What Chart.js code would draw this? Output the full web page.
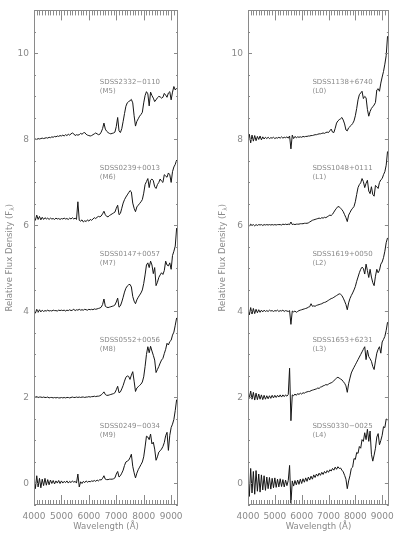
<!DOCTYPE html>
<html>
<head>
<meta charset="utf-8">
<title>SDSS late-M and L dwarf spectra</title>
<script src="https://cdn.jsdelivr.net/npm/chart.js@4.4.1/dist/chart.umd.min.js"></script>
<style>
  body { margin: 0; background: #fff; }
  .panel { position: absolute; top: 0; width: 200px; height: 535px; }
</style>
</head>
<body>
<div class="panel" style="left:0"><canvas id="mChart" width="200" height="535"></canvas></div>
<div class="panel" style="left:200px"><canvas id="lChart" width="200" height="535"></canvas></div>
<script>
// wavelength grid (Angstrom) shared by all spectra
const wavelength = [
  4000,4050,4100,4150,4200,4250,4300,4350,4400,4450,
  4500,4550,4600,4650,4700,4750,4800,4850,4900,4950,
  5000,5050,5100,5150,5200,5250,5300,5350,5400,5450,
  5500,5550,5600,5650,5700,5750,5800,5850,5900,5950,
  6000,6050,6100,6150,6200,6250,6300,6350,6400,6450,
  6500,6550,6600,6650,6700,6750,6800,6850,6900,6950,
  7000,7050,7100,7150,7200,7250,7300,7350,7400,7450,
  7500,7550,7600,7650,7700,7750,7800,7850,7900,7950,
  8000,8050,8100,8150,8200,8250,8300,8350,8400,8450,
  8500,8550,8600,8650,8700,8750,8800,8850,8900,8950,
  9000,9050,9100,9150,9200
];

// tick labels
const xTickValues = [4000, 5000, 6000, 7000, 8000, 9000];
const yTickValues = [0, 2, 4, 6, 8, 10];

// vertical offset of each spectrum (top to bottom)
const offsets = [8, 6, 4, 2, 0];

const mNames = ['SDSS2332\u22120110', 'SDSS0239+0013', 'SDSS0147+0057', 'SDSS0552+0056', 'SDSS0249\u22120034'];
const mTypes = ['M5', 'M6', 'M7', 'M8', 'M9'];
const lNames = ['SDSS1138+6740', 'SDSS1048+0111', 'SDSS1619+0050', 'SDSS1653+6231', 'SDSS0330\u22120025'];
const lTypes = ['L0', 'L1', 'L2', 'L3', 'L4'];

// relative flux, before offset
const m5 = [
  0.00,0.01,0.00,0.02,0.01,0.02,0.03,0.02,0.03,0.04,
  0.03,0.05,0.04,0.06,0.05,0.07,0.06,0.08,0.07,0.09,
  0.08,0.10,0.08,0.11,0.09,0.12,0.10,0.13,0.15,0.13,
  0.09,0.11,0.10,0.11,0.14,0.12,0.15,0.16,0.12,0.10,
  0.09,0.08,0.09,0.11,0.13,0.15,0.13,0.11,0.12,0.17,
  0.25,0.38,0.24,0.19,0.16,0.14,0.13,0.14,0.15,0.17,
  0.30,0.51,0.20,0.16,0.25,0.42,0.60,0.77,0.85,0.88,
  0.90,0.93,0.85,0.55,0.31,0.42,0.48,0.54,0.58,0.63,
  0.85,1.02,1.11,1.06,0.78,1.10,1.02,0.96,0.88,0.92,
  0.97,1.00,0.99,0.96,0.98,1.07,1.03,0.98,1.08,1.11,
  0.92,1.10,1.23,1.15,1.19
];
const m6 = [
  0.20,0.12,0.24,0.14,0.21,0.13,0.19,0.14,0.18,0.15,
  0.17,0.14,0.17,0.15,0.16,0.14,0.17,0.15,0.16,0.14,
  0.16,0.15,0.17,0.15,0.16,0.14,0.17,0.15,0.18,0.15,
  0.17,0.14,0.55,0.12,0.10,0.13,0.08,0.11,0.09,0.13,
  0.10,0.14,0.12,0.15,0.18,0.16,0.19,0.21,0.20,0.22,
  0.27,0.33,0.25,0.21,0.20,0.23,0.25,0.27,0.29,0.31,
  0.40,0.47,0.25,0.28,0.40,0.52,0.60,0.66,0.71,0.76,
  0.81,0.78,0.52,0.40,0.32,0.43,0.47,0.51,0.55,0.60,
  0.75,0.95,1.02,1.09,0.88,1.05,1.08,1.04,0.90,0.86,
  0.95,1.00,1.08,1.03,1.00,1.18,1.15,1.12,1.22,1.18,
  1.00,1.25,1.36,1.42,1.52
];
const m7 = [
  0.03,-0.04,0.05,-0.02,0.04,-0.01,0.03,0.00,0.02,0.01,
  0.03,0.01,0.02,0.01,0.03,0.02,0.02,0.01,0.03,0.02,
  0.03,0.02,0.03,0.01,0.03,0.02,0.04,0.02,0.03,0.05,
  0.02,0.04,0.03,0.05,0.03,0.04,0.03,0.05,0.04,0.03,
  0.05,0.04,0.05,0.04,0.06,0.05,0.06,0.07,0.08,0.10,
  0.16,0.29,0.12,0.10,0.09,0.10,0.11,0.12,0.13,0.15,
  0.22,0.31,0.10,0.13,0.22,0.33,0.45,0.54,0.59,0.62,
  0.63,0.57,0.35,0.24,0.18,0.27,0.33,0.38,0.43,0.50,
  0.65,0.85,1.08,1.13,1.02,1.17,1.08,0.88,1.02,0.60,
  0.68,0.79,0.85,0.90,0.86,0.95,1.17,1.08,1.06,1.13,
  0.98,1.30,1.40,1.52,1.94
];
const m8 = [
  0.02,0.01,0.02,0.00,0.01,0.01,0.00,0.01,0.00,0.00,
  0.01,-0.01,0.00,0.00,-0.01,0.00,-0.01,0.00,-0.01,-0.01,
  0.00,-0.01,0.00,-0.01,0.00,0.00,-0.01,0.00,0.01,0.00,
  0.00,0.01,0.00,0.01,0.00,0.01,0.01,0.00,0.01,0.01,
  0.02,0.01,0.02,0.02,0.03,0.02,0.03,0.03,0.04,0.06,
  0.09,0.13,0.07,0.05,0.05,0.06,0.07,0.08,0.09,0.11,
  0.18,0.26,0.11,0.13,0.20,0.28,0.38,0.47,0.50,0.49,
  0.42,0.52,0.60,0.38,0.14,0.22,0.25,0.28,0.31,0.36,
  0.48,0.72,1.00,1.18,1.04,1.19,1.08,0.98,0.87,0.58,
  0.65,0.72,0.80,0.87,0.91,1.02,1.12,1.26,1.22,1.30,
  1.33,1.45,1.52,1.68,1.85
];
const m9 = [
  0.15,-0.12,0.18,-0.08,0.12,-0.10,0.10,-0.05,0.12,-0.04,
  0.09,-0.03,0.08,0.00,0.07,-0.01,0.06,0.01,0.07,0.00,
  0.06,0.01,0.05,0.02,0.06,0.01,0.05,0.02,0.06,0.03,
  0.05,0.01,0.22,-0.08,0.04,0.00,0.05,0.02,0.06,0.03,
  0.05,0.04,0.06,0.05,0.07,0.05,0.08,0.06,0.09,0.08,
  0.12,0.18,0.10,0.09,0.09,0.10,0.10,0.10,0.11,0.13,
  0.22,0.28,0.15,0.18,0.24,0.31,0.42,0.50,0.52,0.54,
  0.60,0.68,0.40,0.25,0.13,0.24,0.32,0.38,0.44,0.50,
  0.62,0.85,1.10,1.08,1.02,1.15,0.92,0.96,0.80,0.54,
  0.62,0.73,0.76,0.80,0.86,0.95,1.11,1.19,0.77,1.12,
  1.30,1.38,1.49,1.70,1.95
];
const l0 = [
  -0.05,0.12,-0.08,0.10,-0.04,0.09,-0.03,0.07,0.00,0.08,
  -0.01,0.06,0.01,0.05,0.02,0.05,0.02,0.04,0.03,0.05,
  0.02,0.04,0.03,0.05,0.03,0.06,0.03,0.05,0.04,0.06,
  0.03,0.08,-0.22,0.10,0.02,0.07,0.04,0.06,0.05,0.06,
  0.05,0.07,0.06,0.07,0.07,0.08,0.08,0.09,0.09,0.10,
  0.11,0.11,0.12,0.13,0.13,0.14,0.15,0.14,0.16,0.17,
  0.16,0.20,0.24,0.17,0.16,0.26,0.38,0.43,0.46,0.48,
  0.51,0.45,0.36,0.22,0.20,0.27,0.30,0.33,0.37,0.43,
  0.55,0.72,0.92,1.04,1.08,1.12,0.95,1.00,0.97,0.70,
  0.54,0.65,0.72,0.76,0.80,0.86,1.15,1.18,1.12,1.31,
  1.45,1.58,1.75,1.95,2.40
];
const l1 = [
  0.02,-0.01,0.03,0.00,0.02,-0.01,0.02,0.00,0.02,0.01,
  0.02,0.00,0.02,0.01,0.02,0.01,0.02,0.01,0.02,0.01,
  0.02,0.01,0.02,0.02,0.02,0.01,0.03,0.02,0.03,0.02,
  0.03,0.02,0.08,0.02,0.03,0.02,0.03,0.03,0.03,0.04,
  0.04,0.04,0.05,0.05,0.05,0.06,0.08,0.10,0.12,0.13,
  0.14,0.15,0.16,0.17,0.16,0.18,0.17,0.19,0.18,0.20,
  0.22,0.24,0.23,0.26,0.31,0.36,0.40,0.44,0.43,0.40,
  0.37,0.32,0.25,0.18,0.09,0.24,0.30,0.36,0.40,0.44,
  0.55,0.72,0.88,0.95,0.99,1.09,1.02,0.88,0.98,1.05,
  0.80,0.74,0.90,0.72,0.68,0.93,0.90,0.86,1.00,1.06,
  1.09,1.18,1.25,1.40,1.72
];
const l2 = [
  0.05,-0.08,0.09,-0.06,0.07,-0.05,0.05,-0.03,0.04,-0.02,
  0.03,-0.01,0.03,0.00,0.02,0.00,0.03,0.01,0.02,0.00,
  0.02,0.01,0.03,0.00,0.02,0.01,0.03,0.00,0.02,0.01,
  0.00,0.02,-0.30,0.01,-0.01,0.01,-0.02,0.00,0.02,0.03,
  0.04,0.05,0.06,0.07,0.08,0.10,0.11,0.18,0.12,0.13,
  0.12,0.14,0.15,0.16,0.17,0.18,0.20,0.21,0.22,0.24,
  0.26,0.28,0.30,0.31,0.33,0.35,0.37,0.39,0.41,0.40,
  0.37,0.31,0.24,0.16,0.04,0.20,0.30,0.37,0.43,0.50,
  0.58,0.70,0.80,0.90,0.98,1.03,1.00,0.87,1.10,0.95,
  0.79,0.98,0.80,0.67,0.60,0.82,0.98,0.90,0.96,1.10,
  1.15,1.25,1.40,1.60,1.71
];
const l3 = [
  0.18,-0.02,0.15,-0.04,0.12,-0.06,0.10,-0.05,0.08,-0.04,
  0.06,-0.05,0.05,-0.04,0.04,-0.03,0.04,-0.02,0.05,-0.01,
  0.05,0.00,0.05,0.01,0.06,0.01,0.06,0.02,0.06,0.03,
  0.07,0.68,-0.54,0.06,0.04,0.08,0.05,0.09,0.07,0.10,
  0.08,0.11,0.10,0.12,0.13,0.14,0.14,0.16,0.17,0.18,
  0.19,0.20,0.22,0.21,0.24,0.25,0.27,0.28,0.30,0.29,
  0.31,0.33,0.34,0.36,0.39,0.42,0.45,0.47,0.45,0.43,
  0.41,0.37,0.33,0.27,0.12,0.32,0.45,0.57,0.64,0.70,
  0.76,0.82,0.88,0.94,1.00,1.06,1.12,1.18,0.88,1.10,
  0.95,0.90,0.84,0.72,0.65,0.85,1.03,1.12,1.18,1.03,
  1.29,1.35,1.42,1.56,1.75
];
const l4 = [
  0.25,-0.30,0.35,-0.22,0.28,-0.25,0.30,-0.18,0.22,-0.20,
  0.20,-0.15,0.18,-0.16,0.15,-0.12,0.14,-0.13,0.12,-0.10,
  0.13,-0.09,0.10,-0.08,0.11,-0.07,0.09,-0.08,0.08,-0.05,
  0.07,0.42,-0.46,0.06,-0.06,0.07,-0.03,0.08,-0.02,0.10,
  0.00,0.11,0.03,0.13,0.05,0.15,0.08,0.17,0.10,0.20,
  0.14,0.22,0.17,0.24,0.19,0.26,0.21,0.28,0.24,0.30,
  0.26,0.32,0.29,0.35,0.31,0.38,0.33,0.39,0.35,0.36,
  0.31,0.27,0.19,0.10,-0.12,0.06,0.18,0.35,0.38,0.58,
  0.56,0.72,0.70,0.86,0.82,1.02,0.98,1.18,1.02,1.26,
  0.98,1.22,0.68,0.52,0.66,0.82,1.08,1.16,0.90,1.00,
  1.12,1.32,1.30,1.50,1.48
];

const greyText = '#8a8a8a';
const fontFamily = '"DejaVu Sans", sans-serif';

// box, inward ticks, object labels and the y title
const frameTicks = {
  id: 'frameTicks',
  afterDraw(chart, args, opts) {
    const {ctx, chartArea: a, scales: {x, y}} = chart;
    ctx.save();
    ctx.strokeStyle = greyText;
    ctx.lineWidth = 1;
    ctx.strokeRect(Math.round(a.left) + 0.5, Math.round(a.top) + 0.5,
                   Math.round(a.right - a.left) - 1, Math.round(a.bottom - a.top) - 1);
    ctx.beginPath();
    for (let w = 4000; w <= 9200; w += 100) {
      const px = Math.round(x.getPixelForValue(w)) + 0.5;
      const len = w % 1000 === 0 ? 10 : 5;
      ctx.moveTo(px, a.bottom); ctx.lineTo(px, a.bottom - len);
      ctx.moveTo(px, a.top); ctx.lineTo(px, a.top + len);
    }
    for (let v = -0.5; v <= 11; v += 0.5) {
      const py = Math.round(y.getPixelForValue(v)) + 0.5;
      const len = v % 2 === 0 ? 4 : 2;
      ctx.moveTo(a.left, py); ctx.lineTo(a.left + len, py);
      ctx.moveTo(a.right, py); ctx.lineTo(a.right - len, py);
    }
    ctx.stroke();

    ctx.fillStyle = greyText;
    ctx.font = '7px ' + fontFamily;
    ctx.textBaseline = 'middle';
    ctx.textAlign = 'left';
    const lx = x.getPixelForValue(6400);
    opts.names.forEach((n, i) => {
      ctx.fillText(n, lx, y.getPixelForValue(offsets[i] + 1.33));
      ctx.fillText('(' + opts.types[i] + ')', lx, y.getPixelForValue(offsets[i] + 1.12));
    });

    // rotated y title with subscript lambda
    const big = '8.5px ' + fontFamily, small = '6px ' + fontFamily;
    const t1 = 'Relative Flux Density (F', t2 = '\u03bb', t3 = ')';
    ctx.font = big; const w1 = ctx.measureText(t1).width, w3 = ctx.measureText(t3).width;
    ctx.font = small; const w2 = ctx.measureText(t2).width;
    ctx.translate(opts.titleX, (a.top + a.bottom) / 2);
    ctx.rotate(-Math.PI / 2);
    let sx = -(w1 + w2 + w3) / 2;
    ctx.font = big; ctx.fillText(t1, sx, 0); sx += w1;
    ctx.font = small; ctx.fillText(t2, sx, 2); sx += w2;
    ctx.font = big; ctx.fillText(t3, sx, 0);
    ctx.restore();
  }
};

function makeChart(id, series, names, types, padLeft, padRight, titleX) {
  return new Chart(document.getElementById(id), {
    type: 'line',
    data: {
      datasets: series.map((s, i) => ({
        label: names[i],
        data: wavelength.map((w, k) => ({x: w, y: offsets[i] + s[k]})),
        borderColor: '#161616',
        borderWidth: 1,
        pointRadius: 0,
        tension: 0
      }))
    },
    options: {
      responsive: false,
      animation: false,
      devicePixelRatio: 1,
      layout: {padding: {top: 5, right: padRight, left: padLeft, bottom: 0}},
      plugins: {
        legend: {display: false},
        tooltip: {enabled: false},
        frameTicks: {names: names, types: types, titleX: titleX}
      },
      scales: {
        x: {
          type: 'linear', min: 4000, max: 9250,
          grid: {display: false, drawTicks: false},
          border: {display: false},
          afterBuildTicks(s) { s.ticks = xTickValues.map(v => ({value: v})); },
          ticks: {maxRotation: 0, autoSkip: false, padding: 6, callback: v => String(v),
                  color: greyText, font: {family: fontFamily, size: 9}},
          title: {display: true, text: 'Wavelength (\u00c5)', color: greyText,
                  font: {family: fontFamily, size: 8.5}, padding: {top: 0, bottom: 3}},
          afterFit(s) { s.height = 30; }
        },
        y: {
          min: -0.5, max: 11,
          grid: {display: false, drawTicks: false},
          border: {display: false},
          afterBuildTicks(s) { s.ticks = yTickValues.map(v => ({value: v})); },
          ticks: {padding: 5, autoSkip: false, callback: v => String(v),
                  color: greyText, font: {family: fontFamily, size: 9}},
          afterFit(s) { s.width = 34; }
        }
      }
    },
    plugins: [frameTicks]
  });
}

makeChart('mChart', [m5, m6, m7, m8, m9], mNames, mTypes, 0, 22, 10);
makeChart('lChart', [l0, l1, l2, l3, l4], lNames, lTypes, 14, 8, 23);
</script>
</body>
</html>
